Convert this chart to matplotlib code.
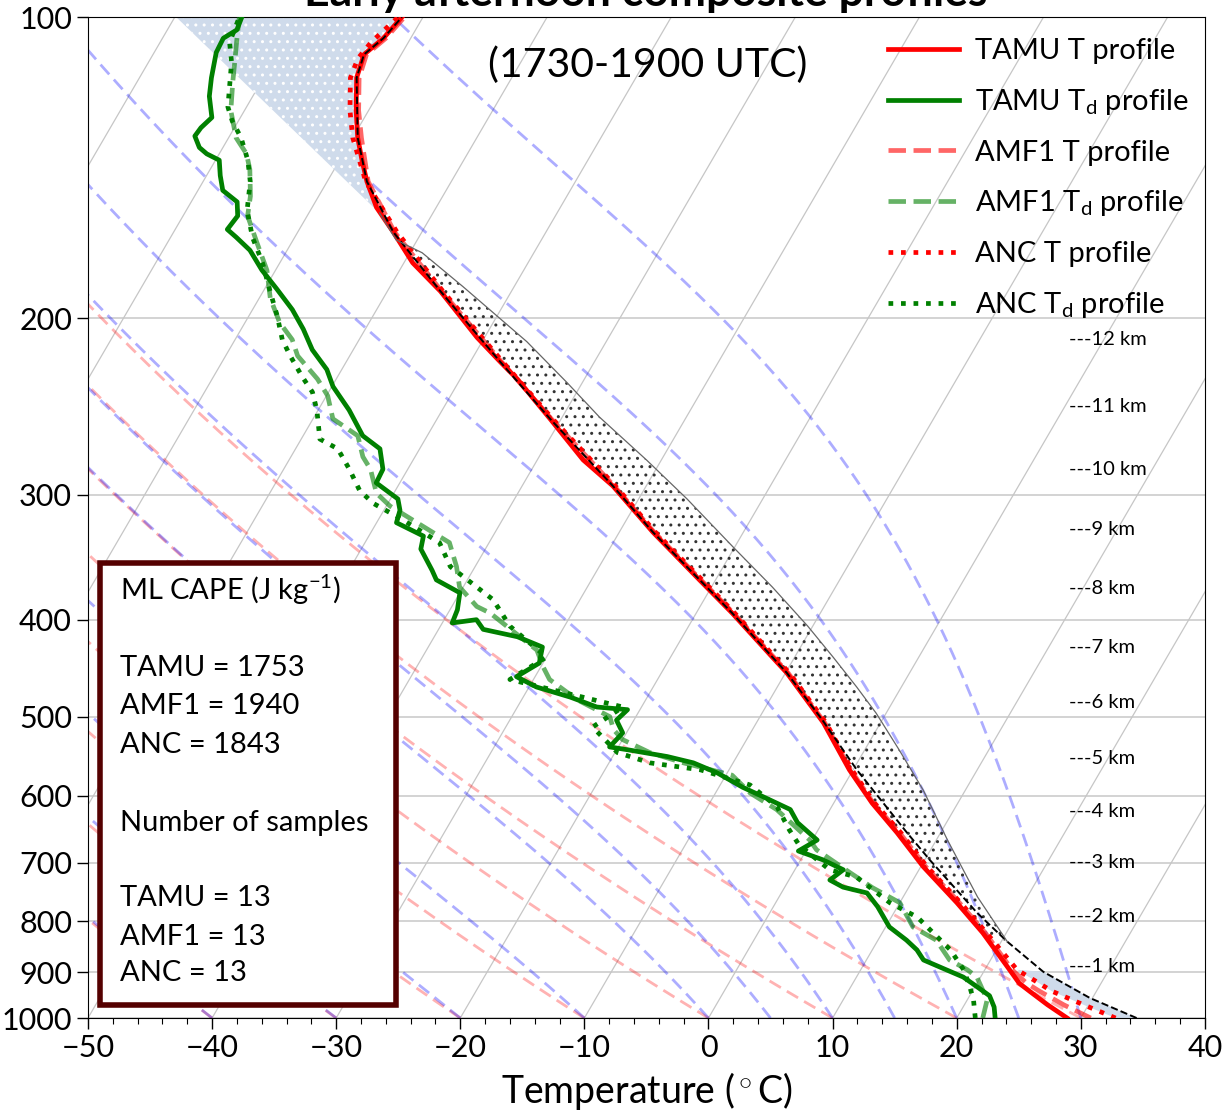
import numpy as np
import matplotlib
matplotlib.use('Agg')
import matplotlib.pyplot as plt
from matplotlib.transforms import Affine2D, blended_transform_factory
from matplotlib.patches import Rectangle
from matplotlib.ticker import NullLocator

plt.rcParams['font.family'] = ['Lato', 'DejaVu Sans']
plt.rcParams['mathtext.fontset'] = 'custom'
plt.rcParams['mathtext.rm'] = 'Lato'
plt.rcParams['mathtext.it'] = 'Lato:italic'
plt.rcParams['mathtext.bf'] = 'Lato:bold'

# ---- profiles (pressure hPa, temperature degC) ----
p_tamu_t = [1000, 970, 940, 923, 895, 822, 767, 706, 653, 610, 565, 507, 452, 436, 394,
            365, 327, 294, 277, 252, 230, 221, 209, 188, 176, 164, 155, 146, 139, 132,
            124, 115, 109, 105, 100]
t_tamu = [28.9, 26.7, 24.6, 23.4, 22.0, 18.1, 14.6, 10.2, 6.5, 3.1, -0.3, -4.6, -9.9, -11.8, -17.1,
          -21.3, -27.3, -32.7, -36.3, -40.9, -45.4, -47.6, -50.6, -55.7, -59.3, -62.3, -64.8, -66.8, -68.2, -69.6,
          -71.0, -72.5, -73.0, -72.2, -71.7]

p_amf1_t = [1000, 970, 940, 923, 895, 822, 767, 706, 653, 610, 565, 507, 452, 394, 327,
            294, 252, 221, 188, 164, 146, 132, 124, 115, 109, 105, 100]
t_amf1 = [30.8, 28.0, 25.4, 24.0, 22.2, 18.3, 14.8, 10.4, 6.7, 3.2, -0.2, -4.5, -9.8, -17.0, -27.2,
          -32.6, -40.8, -47.5, -55.6, -62.2, -66.7, -69.3, -70.8, -72.3, -72.8, -72.0, -71.5]

p_anc_t = [1000, 970, 940, 923, 895, 822, 767, 706, 653, 610, 565, 507, 452, 394, 327,
           294, 252, 221, 188, 164, 146, 132, 124, 115, 110, 106, 100]
t_anc = [32.8, 29.6, 26.4, 25.0, 22.6, 18.4, 14.9, 10.5, 6.8, 3.3, -0.1, -4.4, -9.7, -16.9, -27.1,
         -32.5, -40.7, -47.4, -55.5, -62.0, -66.9, -70.0, -71.5, -73.0, -73.3, -73.0, -72.0]

p_tamu_td = [1000, 975, 950, 931, 910, 895, 875, 855, 836, 811, 774, 750, 740, 728, 711,
             695, 681, 664, 638, 619, 601, 588, 569, 556, 548, 540, 536, 519, 504, 492,
             489, 478, 467, 456, 442, 426, 416, 409, 400, 403, 391, 376, 365, 357, 340,
             330, 320, 311, 303, 292, 283, 270, 262, 247, 234, 225, 215, 205, 196, 187,
             179, 171, 166, 163, 158, 153, 149, 144, 139, 137, 135, 131.5, 129, 126, 120,
             115, 108.5, 105, 103, 100]
td_tamu = [23.1, 22.5, 21.6, 20.2, 18.6, 16.9, 14.6, 13.6, 12.3, 10.3, 8.4, 6.9, 4.7, 3.3, 3.9,
           1.8, -0.6, 0.4, -2.0, -3.2, -6.0, -8.1, -10.8, -13.2, -15.6, -18.9, -20.7, -20.3, -21.4, -21.0,
           -23.6, -26.2, -29.4, -31.5, -30.3, -30.8, -33.3, -36.4, -37.4, -39.2, -39.4, -40.0, -42.5, -43.3, -45.2,
           -45.6, -48.4, -48.7, -49.4, -51.9, -52.0, -53.2, -55.2, -57.5, -59.9, -61.2, -63.3, -65.0, -66.8, -69.0,
           -71.1, -73.0, -74.7, -75.8, -75.6, -76.3, -78.0, -78.9, -79.7, -81.0, -81.9, -82.8, -82.7, -82.3, -83.5,
           -84.2, -85.0, -85.1, -84.4, -84.6]

p_amf1_td = [1000, 959, 910, 895, 875, 836, 811, 767, 741, 716, 679, 664, 619, 596, 572,
             556, 543, 527, 515, 500, 481, 459, 446, 429, 394, 388, 371, 354, 335, 308,
             299, 283, 275, 262, 252, 239, 230, 218, 210, 202, 191, 179, 168, 158, 151,
             142, 137, 132, 124, 116, 110, 105, 100]
td_amf1 = [22.1, 21.6, 19.7, 18.6, 16.7, 14.7, 12.2, 10.0, 7.1, 4.6, 0.8, -0.2, -4.3, -7.2, -9.5,
           -14.0, -17.2, -20.0, -21.2, -22.1, -25.5, -28.7, -29.8, -31.1, -36.6, -38.0, -40.3, -41.5, -43.2, -49.7,
           -51.4, -53.0, -54.2, -55.6, -58.4, -59.9, -61.5, -64.2, -65.4, -67.2, -69.1, -70.7, -72.8, -74.8, -75.5,
           -76.8, -77.8, -79.4, -81.1, -82.3, -83.2, -84.0, -84.8]

p_anc_td = [1000, 959, 931, 895, 855, 822, 793, 767, 723, 711, 672, 649, 615, 585, 565,
            556, 543, 512, 489, 478, 459, 436, 406, 382, 354, 335, 318, 306, 297, 283,
            270, 264, 247, 237, 229, 218, 210, 199, 187, 176, 166, 156, 146, 139, 132,
            127, 123, 111, 106, 100]
td_anc = [21.5, 20.5, 19.6, 18.3, 16.3, 14.1, 12.1, 9.2, 5.3, 2.8, -0.8, -2.3, -4.4, -7.6, -12.3,
          -16.7, -19.8, -23.0, -21.5, -25.2, -31.9, -30.0, -34.4, -37.0, -42.0, -44.0, -48.0, -51.2, -52.9, -54.7,
          -56.6, -58.5, -60.1, -61.3, -62.8, -64.8, -66.2, -67.7, -69.6, -71.4, -73.4, -75.1, -76.2, -77.4, -79.0,
          -80.5, -81.5, -83.3, -84.4, -84.8]

# parcel paths
p_parcel_sfc = [1000, 955, 899, 839, 785, 695, 653, 565, 504, 452, 394, 327, 294, 252,
                221, 188, 164, 146, 132, 115, 109, 105, 100]
t_parcel_sfc = [34.5, 29.8, 24.8, 20.5, 16.7, 10.4, 7.3, 0.3, -4.8, -9.9, -17.1, -27.3, -32.7, -40.9,
                -47.6, -55.7, -62.3, -66.8, -69.6, -72.5, -73.0, -72.2, -71.7]

p_parcel_ml = [839, 757, 664, 592, 540, 496, 467, 436, 406, 371, 338, 303, 277, 251,
               232, 211, 186, 172, 167, 157]
t_parcel_ml = [20.5, 16.0, 10.9, 6.6, 2.8, -0.8, -3.6, -6.9, -10.4, -15.1, -20.2, -26.1, -31.2, -37.0,
               -41.2, -46.4, -54.1, -59.0, -61.7, -64.3]
p_parcel_top = [157, 100]
t_parcel_top = [-64.3, -89.9]

# background lines
isotherms = np.arange(-150, 41, 10)
dry_t0 = [-50, -40, -30, -20, -10, 0, 10, 20, 30]
moist_t0 = [-50, -40, -30, -20, -10, 0, 5, 10, 15, 20, 25, 30]

height_km = [1, 2, 3, 4, 5, 6, 7, 8, 9, 10, 11, 12]
height_p = [889, 791, 700, 622, 550, 484, 426, 372, 325, 283, 245, 210]

cape_lines = ['ML CAPE (J kg$^{-1}$)', 'TAMU = 1753', 'AMF1 = 1940', 'ANC = 1843',
              'Number of samples', 'TAMU = 13', 'AMF1 = 13', 'ANC = 13']
cape_y = [0.428, 0.350, 0.312, 0.273, 0.195, 0.120, 0.081, 0.045]


def moist_adiabats(t0, p):
    rd, cp, lv, eps = 287.04, 1005.7, 2.501e6, 0.622

    def dtdp(pp, t):
        es = 6.112 * np.exp(17.67 * (t - 273.15) / (t - 29.65))
        rs = eps * es / (pp - es)
        return (rd * t + lv * rs) / (cp + lv ** 2 * rs * eps / (rd * t ** 2)) / pp

    t = np.array(t0, dtype=float) + 273.15
    out = [t.copy()]
    for i in range(len(p) - 1):
        h = p[i + 1] - p[i]
        k1 = dtdp(p[i], t)
        k2 = dtdp(p[i] + h / 2, t + h / 2 * k1)
        k3 = dtdp(p[i] + h / 2, t + h / 2 * k2)
        k4 = dtdp(p[i + 1], t + h * k3)
        t = t + h / 6 * (k1 + 2 * k2 + 2 * k3 + k4)
        out.append(t.copy())
    return np.array(out).T - 273.15


fig = plt.figure(figsize=(12.22, 11.12), dpi=100)
ax = fig.add_axes([0.072, 0.0845, 0.914, 0.9002])
ax.set_yscale('log')
ax.set_xlim(-50, 40)
ax.set_ylim(1000, 100)

# skew-T transform: shift x by 47 degC per decade of pressure
skew = ax.transScale + ax.transLimits + Affine2D().skew(np.arctan(47 / 90), 0) + ax.transAxes

p_grid = np.logspace(3, 2, 300)
adiabat_ls = (0, (4.7, 2.5))
for t in isotherms:
    ax.plot([t, t], [1000, 100], transform=skew, color='#c6c6c6', lw=0.9, zorder=1)
for t0 in dry_t0:
    td = (t0 + 273.15) * (p_grid / 1000) ** 0.2857 - 273.15
    ax.plot(td, p_grid, transform=skew, color='r', alpha=0.3, ls=adiabat_ls, lw=2, zorder=1.5)
for tm in moist_adiabats(moist_t0, p_grid):
    ax.plot(tm, p_grid, transform=skew, color='b', alpha=0.32, ls=adiabat_ls, lw=2, zorder=1.5)

# shaded areas
pa = np.array(p_tamu_t)
ta = np.array(t_tamu)
m = (pa > 157) & (pa < 839)
cape_x = np.concatenate([t_parcel_ml, ta[m][::-1]])
cape_p = np.concatenate([p_parcel_ml, pa[m][::-1]])
ax.fill(cape_x, cape_p, transform=skew, facecolor='none', edgecolor='#333333',
        hatch='..', lw=0, zorder=2)
m = (pa >= 100) & (pa < 157)
cin_x = np.concatenate([t_parcel_top, ta[m][::-1]])
cin_p = np.concatenate([p_parcel_top, pa[m][::-1]])
ax.fill(cin_x, cin_p, transform=skew, facecolor='#cfdbeb', edgecolor='white',
        hatch='..', lw=0, zorder=2)
pc = np.array(p_anc_t)
tc = np.array(t_anc)
m = pc >= 895
low_x = np.concatenate([t_parcel_sfc[:3], tc[m][::-1]])
low_p = np.concatenate([p_parcel_sfc[:3], pc[m][::-1]])
ax.fill(low_x, low_p, transform=skew, facecolor='#cfdbeb', lw=0, zorder=2)

# profiles
ax.plot(t_tamu, p_tamu_t, transform=skew, color='red', lw=3.4, zorder=3, label='TAMU T profile')
ax.plot(td_tamu, p_tamu_td, transform=skew, color='green', lw=3.4, zorder=3,
        label='TAMU T$_\\mathrm{d}$ profile')
ax.plot(t_amf1, p_amf1_t, transform=skew, color='red', alpha=0.6, ls='--', lw=3.4, zorder=3,
        label='AMF1 T profile')
ax.plot(td_amf1, p_amf1_td, transform=skew, color='green', alpha=0.6, ls='--', lw=3.4, zorder=3,
        label='AMF1 T$_\\mathrm{d}$ profile')
ax.plot(t_anc, p_anc_t, transform=skew, color='red', ls=':', lw=3.4, zorder=3, label='ANC T profile')
ax.plot(td_anc, p_anc_td, transform=skew, color='green', ls=':', lw=3.4, zorder=3,
        label='ANC T$_\\mathrm{d}$ profile')
ax.plot(t_parcel_sfc, p_parcel_sfc, transform=skew, color='black', ls='--', lw=1.4, zorder=4)
ax.plot(t_parcel_ml, p_parcel_ml, transform=skew, color='#666666', lw=0.9, zorder=4)

ax.set_xlim(-50, 40)
ax.set_ylim(1000, 100)
ax.set_xticks(np.arange(-50, 41, 10))
ax.set_xticks(np.arange(-50, 41, 2), minor=True)
ax.set_yticks([100, 200, 300, 400, 500, 600, 700, 800, 900, 1000])
ax.set_yticklabels(['100', '200', '300', '400', '500', '600', '700', '800', '900', '1000'])
ax.yaxis.set_minor_locator(NullLocator())
ax.tick_params(labelsize=22, length=8, width=1)
ax.tick_params(which='minor', length=4, width=0.8)
ax.yaxis.grid(True, color='#cccccc', lw=1.2)
ax.set_axisbelow(True)
ax.set_xlabel('Temperature ($^\\circ$C)', fontsize=27, labelpad=6)

# height markers
hb = blended_transform_factory(ax.transAxes, ax.transData)
for h, p in zip(height_km, height_p):
    ax.text(0.878, p, '---%d km' % h, transform=hb, fontsize=14.5, va='center', ha='left', zorder=5)

ax.text(0.501, 0.952, '(1730-1900 UTC)', transform=ax.transAxes, fontsize=29.5,
        ha='center', va='center', zorder=5)

# CAPE box
ax.add_patch(Rectangle((0.0107, 0.013), 0.265, 0.442, transform=ax.transAxes,
                       facecolor='white', edgecolor='#550000', lw=4, zorder=6))
for s, y in zip(cape_lines, cape_y):
    ax.text(0.0286, y, s, transform=ax.transAxes, fontsize=21, va='center', ha='left', zorder=7)

ax.legend(loc='upper right', bbox_to_anchor=(1.0, 0.995), frameon=False, fontsize=21,
          handlelength=2.45, labelspacing=0.78, handletextpad=0.55, borderaxespad=0.15)

fig.text(0.528, 1 - 6 / 1112, 'Early afternoon composite profiles', ha='center',
         va='baseline', fontsize=32, weight='bold')

plt.savefig('out.png', dpi=100)
